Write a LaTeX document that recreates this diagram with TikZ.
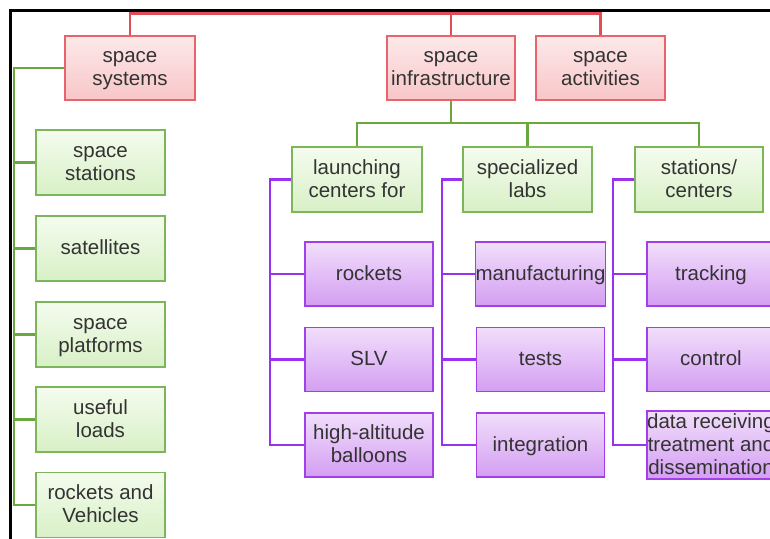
\documentclass[tikz,border=0pt]{standalone}
\usepackage{fontspec}
\setmainfont{Liberation Sans}
\definecolor{redborder}{HTML}{E8646C}
\definecolor{redtop}{HTML}{FDE9E9}
\definecolor{redbot}{HTML}{F8C6C8}
\definecolor{greenborder}{HTML}{7CB55A}
\definecolor{greentop}{HTML}{F4FCEE}
\definecolor{greenbot}{HTML}{D8F0C6}
\definecolor{purpleborder}{HTML}{A23EEA}
\definecolor{purpletop}{HTML}{F1DEFB}
\definecolor{purplebot}{HTML}{D49EF2}
\definecolor{redln}{HTML}{E04C58}
\definecolor{greenln}{HTML}{68A83C}
\definecolor{purpleln}{HTML}{9A30F0}
\definecolor{txt}{HTML}{333333}
\newcommand\lnstrut{\rule[-4.8pt]{0pt}{22.3pt}}
\tikzset{
  box/.style={rectangle, align=center, inner sep=0pt, line width=1.8pt,
    font=\fontsize{20.5pt}{23pt}\selectfont, text=txt},
  redbox/.style={box, draw=redborder, top color=redtop, bottom color=redbot, minimum height=64pt},
  greenbox/.style={box, draw=greenborder, top color=greentop, bottom color=greenbot, minimum height=65pt},
  purplebox/.style={box, draw=purpleborder, top color=purpletop, bottom color=purplebot, minimum height=64pt, minimum width=128pt},
  redline/.style={draw=redln, line width=2.2pt},
  greenline/.style={draw=greenln, line width=2.2pt},
  purpleline/.style={draw=purpleln, line width=2.2pt},
}
\begin{document}
\begin{tikzpicture}[x=1pt,y=-1pt]
\useasboundingbox (0,0) rectangle (770,538);
\clip (0,0) rectangle (770,538);
% top level
\node[redbox, minimum width=130pt] (ss) at (130,68) {\lnstrut space\\\lnstrut systems};
\node[redbox, minimum width=128pt] (inf) at (451,68) {\lnstrut space\\\lnstrut infrastructure};
\node[redbox, minimum width=129pt] (act) at (600.5,68) {\lnstrut space\\\lnstrut activities};
% left column
\node[greenbox, minimum width=129pt] (sst) at (100.5,162.5) {\lnstrut space\\\lnstrut stations};
\node[greenbox, minimum width=129pt] (sat) at (100.5,248.5) {\lnstrut satellites};
\node[greenbox, minimum width=129pt] (spl) at (100.5,334.5) {\lnstrut space\\\lnstrut platforms};
\node[greenbox, minimum width=129pt] (ul) at (100.5,419.5) {\lnstrut useful\\\lnstrut loads};
\node[greenbox, minimum width=129pt] (rv) at (100.5,505) {\lnstrut rockets and\\\lnstrut Vehicles};
% infrastructure children
\node[greenbox, minimum width=130pt] (lc) at (357,179.5) {\lnstrut launching\\\lnstrut centers for};
\node[greenbox, minimum width=129pt] (sl) at (527.5,179.5) {\lnstrut specialized\\\lnstrut labs};
\node[greenbox, minimum width=128pt] (st) at (699,179.5) {\lnstrut stations/\\\lnstrut centers};
% purple
\node[purplebox] (rk) at (369,274) {\lnstrut rockets};
\node[purplebox] (slv) at (369,359.5) {\lnstrut SLV};
\node[purplebox] (hab) at (369,445) {\lnstrut high-altitude\\\lnstrut balloons};
\node[purplebox] (man) at (540.5,274) {\lnstrut manufacturing};
\node[purplebox] (tst) at (540.5,359.5) {\lnstrut tests};
\node[purplebox] (itg) at (540.5,445) {\lnstrut integration};
\node[purplebox] (trk) at (711,274) {\lnstrut tracking};
\node[purplebox] (ctl) at (711,359.5) {\lnstrut control};
\node[purplebox] (drt) at (711,445) {\lnstrut data receiving\\\lnstrut treatment and\\\lnstrut dissemination};
% red connectors
\coordinate (rt) at (130,13.5);
\draw[redline] (ss.north) -- (rt) -- (act.north |- rt) -- (act.north);
\draw[redline] (inf.north) -- (inf.north |- rt);
% left green connectors
\coordinate (gl) at (14,68);
\draw[greenline] (ss.west) -- (gl) |- (rv.west);
\foreach \b in {sst,sat,spl,ul} \draw[greenline] (gl |- \b.west) -- (\b.west);
% infra green connectors
\coordinate (ib) at (451,123);
\draw[greenline] (inf.south) -- (ib);
\draw[greenline] (lc.north) |- (ib) -| (st.north);
\draw[greenline] (sl.north) -- (sl.north |- ib);
% purple connectors
\coordinate (p1) at (270,179.5);
\draw[purpleline] (lc.west) -- (p1) |- (hab.west);
\draw[purpleline] (p1 |- rk.west) -- (rk.west);
\draw[purpleline] (p1 |- slv.west) -- (slv.west);
\coordinate (p2) at (442,179.5);
\draw[purpleline] (sl.west) -- (p2) |- (itg.west);
\draw[purpleline] (p2 |- man.west) -- (man.west);
\draw[purpleline] (p2 |- tst.west) -- (tst.west);
\coordinate (p3) at (613,179.5);
\draw[purpleline] (st.west) -- (p3) |- (drt.west);
\draw[purpleline] (p3 |- trk.west) -- (trk.west);
\draw[purpleline] (p3 |- ctl.west) -- (ctl.west);
% frame
\draw[line width=3pt, black] (10.5,540) -- (10.5,10.5) -- (772,10.5);
\end{tikzpicture}
\end{document}
